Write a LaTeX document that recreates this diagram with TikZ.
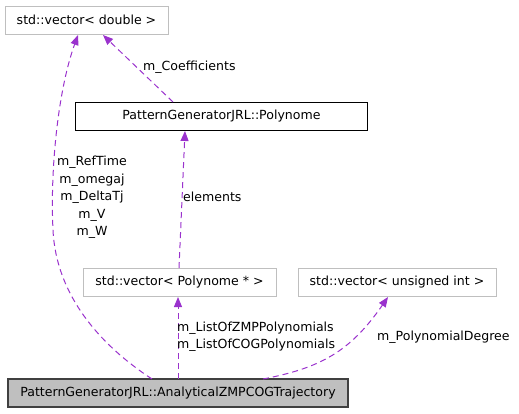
\documentclass[tikz,border=0pt]{standalone}
\usepackage{fontspec}
\setmainfont{DejaVu Sans}
\usetikzlibrary{arrows.meta}
\definecolor{edgepurple}{HTML}{9A32CD}
\definecolor{boxgray}{HTML}{BFBFBF}
\definecolor{lightborder}{HTML}{BFBFBF}
\definecolor{mainborder}{HTML}{404040}
\begin{document}
\begin{tikzpicture}[x=1bp,y=-1bp,
  every node/.style={font=\fontsize{12.6}{14}\selectfont, inner sep=0pt},
  cls/.style={draw=lightborder, line width=0.8bp, fill=white, minimum height=28bp, anchor=center},
  mainbox/.style={draw=mainborder, line width=1.2bp, fill=boxgray, minimum height=28bp, anchor=center},
  polybox/.style={draw=black, line width=1.0bp, fill=white, minimum height=28bp, anchor=center},
  rel/.style={draw=edgepurple, line width=1bp, dash pattern=on 6bp off 4bp, -{Triangle[length=10bp,width=8bp]}},
  lbl/.style={align=center, font=\fontsize{12.6}{17.5}\selectfont}
]
\useasboundingbox (0,0) rectangle (519,413);
\node[cls, minimum width=163bp] (vd) at (86.5,20) {std::vector< double >};
\node[polybox, minimum width=291bp] (poly) at (221.5,116) {PatternGeneratorJRL::Polynome};
\node[cls, minimum width=193bp] (vp) at (179.5,282) {std::vector< Polynome * >};
\node[cls, minimum width=198bp] (vu) at (397,282) {std::vector< unsigned int >};
\node[mainbox, minimum width=340bp] (main) at (178,393) {PatternGeneratorJRL::AnalyticalZMPCOGTrajectory};

\coordinate (m1) at (152,379);
\coordinate (m2) at (178,379);
\coordinate (m3) at (263,379);
\coordinate (p1) at (173,102);
\coordinate (vdt1) at (78,35);
\coordinate (vdt2) at (103,35);
\coordinate (pb) at (185,131);
\coordinate (vpt) at (179,268);
\coordinate (vpb) at (178,297);
\coordinate (vub) at (388,297);

\draw[rel] (m1) .. controls (100,345) and (56,295) .. (53,230) .. controls (50,170) and (58,90) .. (vdt1);
\draw[rel] (p1) -- (vdt2);
\draw[rel] (vpt) -- (pb);
\draw[rel] (m2) -- (vpb);
\draw[rel] (m3) .. controls (320,368) and (350,352) .. (vub);

\node[lbl] (l1) at (92,197.5) {m\_RefTime\\m\_omegaj\\m\_DeltaTj\\m\_V\\m\_W};
\node[lbl, anchor=west] (l2) at (143,67) {m\_Coefficients};
\node[lbl, anchor=west] (l3) at (183,197) {elements};
\node[lbl, anchor=west, align=left] (l4) at (177,336.5) {m\_ListOfZMPPolynomials\\m\_ListOfCOGPolynomials};
\node[lbl, anchor=west] (l5) at (377,337) {m\_PolynomialDegree};
\end{tikzpicture}
\end{document}
